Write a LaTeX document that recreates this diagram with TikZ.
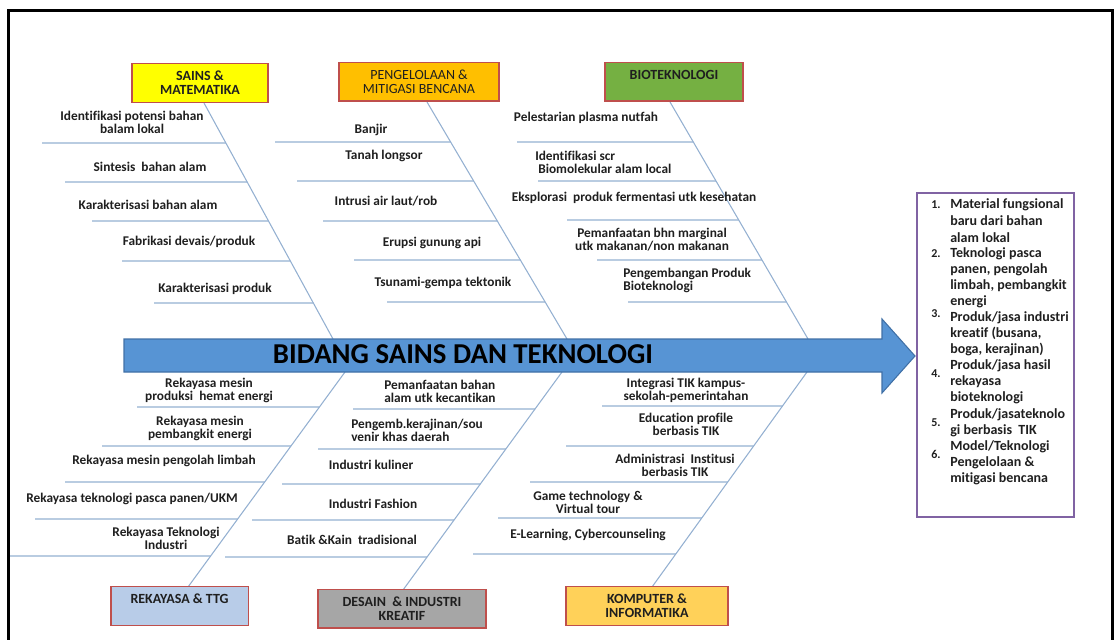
\documentclass[tikz,border=0pt]{standalone}
\usepackage{fontspec}
\setmainfont{Carlito}[Ligatures=NoCommon]
\definecolor{BoneClr}{rgb}{0.58,0.69,0.82}
\definecolor{ArrowClr}{rgb}{0.34,0.58,0.83}
\definecolor{ArrowEdge}{rgb}{0.25,0.44,0.65}
\definecolor{EdgeClr}{rgb}{0.75,0.31,0.30}
\definecolor{SainsClr}{rgb}{1,1,0}
\definecolor{BencanaClr}{rgb}{1,0.75,0}
\definecolor{BioClr}{rgb}{0.46,0.69,0.26}
\definecolor{RekayasaClr}{rgb}{0.72,0.80,0.91}
\definecolor{DesainClr}{rgb}{0.65,0.65,0.65}
\definecolor{KomputerClr}{rgb}{1,0.82,0.35}
\definecolor{ListClr}{rgb}{0.50,0.39,0.64}
\definecolor{TxtClr}{rgb}{0.12,0.12,0.12}
\newcommand{\boxfont}{\fontsize{10.5}{10.5}\selectfont\bfseries}
\newcommand{\boxfontreg}{\fontsize{10.5}{10.5}\selectfont}
\newcommand{\causefont}{\fontsize{10}{9.8}\selectfont\bfseries}
\newcommand{\listfont}{\fontsize{10.5}{12}\selectfont\bfseries}
\newcommand{\numfont}{\fontsize{9}{9}\selectfont\bfseries}

\begin{document}
\begin{tikzpicture}[x=0.75pt,y=-0.75pt,
  bone/.style={draw=BoneClr,line width=0.8pt},
  bidang/.style={draw=EdgeClr,line width=1pt,inner sep=0pt,minimum height=29pt,text=TxtClr,align=center,font=\boxfont},
  cause/.style={text=TxtClr,align=center,inner sep=0pt,font=\causefont},
  listtxt/.style={text=TxtClr,anchor=west,inner sep=0pt,font=\listfont},
  listnum/.style={text=TxtClr,anchor=west,inner sep=0pt,font=\numfont}]
\useasboundingbox (0,0) rectangle (1116,639);

% frame
\draw[line width=2.3pt] (8.5,640) -- (8.5,10.5) -- (1112.5,10.5) -- (1112.5,640);

% spines
\coordinate (T1) at (204,103); \coordinate (U1) at (333,339);
\coordinate (T2) at (427,102); \coordinate (U2) at (567,339);
\coordinate (T3) at (670,102); \coordinate (U3) at (808,339);
\coordinate (U4) at (345,372); \coordinate (T4) at (188,587);
\coordinate (U5) at (562,372); \coordinate (T5) at (403,590);
\coordinate (U6) at (807,372); \coordinate (T6) at (652,587);
\foreach \k in {1,...,6}
  \draw[bone] (T\k) -- (U\k);

% bones
\foreach \x/\y in {42/143,65/182,92/221,122/261,154/303}
  \draw[bone] (\x,\y) -- (intersection of T1--U1 and 0,\y--1,\y);
\foreach \x/\y in {275/142,297/181,323/221,354/260,387/302}
  \draw[bone] (\x,\y) -- (intersection of T2--U2 and 0,\y--1,\y);
\foreach \x/\y in {517/142,538/181,567/220,597/260,628/302}
  \draw[bone] (\x,\y) -- (intersection of T3--U3 and 0,\y--1,\y);
\foreach \x/\y in {137/407,102/446,65/482,35/519,10/556}
  \draw[bone] (\x,\y) -- (intersection of T4--U4 and 0,\y--1,\y);
\foreach \x/\y in {353/409,318/449,282/484,252/520,225/557}
  \draw[bone] (\x,\y) -- (intersection of T5--U5 and 0,\y--1,\y);
\foreach \x/\y in {602/406,566/446,530/482,498/518,473/554}
  \draw[bone] (\x,\y) -- (intersection of T6--U6 and 0,\y--1,\y);

% main arrow
\draw[fill=ArrowClr,draw=ArrowEdge,line width=0.8pt]
  (124,339) -- (882,339) -- (882,319) -- (915,356) -- (882,393) -- (882,372) -- (124,372) -- cycle;
\node[font=\fontsize{21.6}{21.6}\selectfont\bfseries,text=black,inner sep=0pt] (judul) at (463,354) {BIDANG SAINS DAN TEKNOLOGI};

% bidang boxes
\node[bidang,fill=SainsClr,minimum width=102pt] (sains) at (200,83) {SAINS \&\\MATEMATIKA};
\node[bidang,fill=BencanaClr,minimum width=120pt,font=\boxfontreg] (bencana) at (419,81.5) {PENGELOLAAN \&\\MITIGASI BENCANA};
\node[bidang,fill=BioClr,minimum width=103.5pt] (bio) at (674,81.5) {BIOTEKNOLOGI\\\phantom{B}};
\node[bidang,fill=RekayasaClr,minimum width=103pt] (rekayasa) at (179.5,606) {REKAYASA \& TTG\\\phantom{R}};
\node[bidang,fill=DesainClr,minimum width=126pt] (desain) at (402,608.5) {DESAIN\ \ \& INDUSTRI\\KREATIF};
\node[bidang,fill=KomputerClr,minimum width=121.5pt] (komputer) at (647,606) {KOMPUTER \&\\INFORMATIKA};

% sains & matematika
\node[cause] (c11) at (132,122) {Identifikasi potensi bahan\\balam lokal};
\node[cause] (c12) at (150,167) {Sintesis\ \ bahan alam};
\node[cause] (c13) at (148,205) {Karakterisasi bahan alam};
\node[cause] (c14) at (189,242) {Fabrikasi devais/produk};
\node[cause] (c15) at (215,289) {Karakterisasi produk};

% pengelolaan & mitigasi bencana
\node[cause] (c21) at (371,130) {Banjir};
\node[cause] (c22) at (384,156) {Tanah longsor};
\node[cause] (c23) at (386,201) {Intrusi air laut/rob};
\node[cause] (c24) at (432,243) {Erupsi gunung api};
\node[cause] (c25) at (443,283) {Tsunami-gempa tektonik};

% bioteknologi
\node[cause] (c31) at (586,118) {Pelestarian plasma nutfah};
\node[cause,align=left,anchor=west] (c32) at (535,162) {Identifikasi scr\\\ Biomolekular alam local};
\node[cause] (c33) at (634,198) {Eksplorasi\ \ produk fermentasi utk kesehatan};
\node[cause] (c34) at (652,240) {Pemanfaatan bhn marginal\\utk makanan/non makanan};
\node[cause,align=left,anchor=west] (c35) at (623,280) {Pengembangan Produk\\Bioteknologi};

% rekayasa & ttg
\node[cause] (c41) at (209,390) {Rekayasa mesin\\produksi\ \ hemat energi};
\node[cause] (c42) at (200,428) {Rekayasa mesin\\pembangkit energi};
\node[cause] (c43) at (164,461) {Rekayasa mesin pengolah limbah};
\node[cause] (c44) at (132,499) {Rekayasa teknologi pasca panen/UKM};
\node[cause] (c45) at (166,538) {Rekayasa Teknologi\\Industri};

% desain & industri kreatif
\node[cause,align=left,anchor=west] (c51) at (384,391) {Pemanfaatan bahan\\alam utk kecantikan};
\node[cause,align=left,anchor=west] (c52) at (351,430) {Pengemb.kerajinan/sou\\venir khas daerah};
\node[cause] (c53) at (371,465) {Industri kuliner};
\node[cause] (c54) at (373,504) {Industri Fashion};
\node[cause] (c55) at (352,540) {Batik \&Kain\ \ tradisional};

% komputer & informatika
\node[cause] (c61) at (686,390) {Integrasi TIK kampus-\\sekolah-pemerintahan};
\node[cause] (c62) at (686,424) {Education profile\\berbasis TIK};
\node[cause] (c63) at (675,465) {Administrasi\ \ Institusi\\berbasis TIK};
\node[cause] (c64) at (588,502) {Game technology \&\\Virtual tour};
\node[cause] (c65) at (588,535) {E-Learning, Cybercounseling};

% output list
\draw[draw=ListClr,line width=0.9pt] (917,193) rectangle (1074,517);
\foreach \t [count=\i from 0] in {Material fungsional,baru dari bahan,alam lokal,Teknologi pasca,{panen, pengolah},{limbah, pembangkit},energi,Produk/jasa industri,{kreatif (busana,},{boga, kerajinan)},Produk/jasa hasil,rekayasa,bioteknologi,Produk/jasateknolo,gi berbasis\ \ TIK,Model/Teknologi,Pengelolaan \&,mitigasi bencana}
  \node[listtxt] (L\i) at (950,205+16.1*\i) {\t};
\foreach \n/\k in {1/0,2/3,3/6.75,4/10.5,5/13.5,6/15.5}
  \node[listnum] (N\n) at (931,205+16.1*\k) {\n.};

\end{tikzpicture}
\end{document}
